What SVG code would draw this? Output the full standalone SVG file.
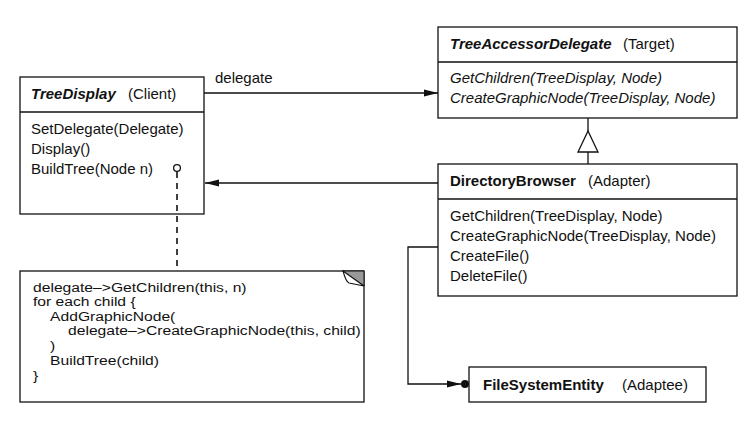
<svg xmlns="http://www.w3.org/2000/svg" width="754" height="423" viewBox="0 0 754 423">
<style>
.box{fill:#fff;stroke:#111;stroke-width:1.3}
.ln{fill:none;stroke:#111;stroke-width:1.3}
text{font-family:"Liberation Sans",Arial,sans-serif;font-size:15px;fill:#111}
.bi{font-weight:bold;font-style:italic}
.b{font-weight:bold}
.i{font-style:italic}
.note text{font-size:13.5px}
</style>
<defs>
<marker id="arr" viewBox="0 0 14 8" refX="14" refY="4" markerWidth="14" markerHeight="8" markerUnits="userSpaceOnUse" orient="auto">
<path d="M0,0.5 L14,4 L0,7.5 Z" fill="#111"/>
</marker>
</defs>
<rect width="754" height="423" fill="#fff"/>

<g id="TreeDisplay">
<rect class="box" x="20" y="77" width="184" height="137"/>
<path class="ln" d="M20,112 H204"/>
<text x="31" y="99"><tspan class="bi">TreeDisplay</tspan><tspan x="128">(Client)</tspan></text>
<text x="31" y="134">SetDelegate(Delegate)</text>
<text x="31" y="154">Display()</text>
<text x="31" y="174">BuildTree(Node n)</text>
</g>

<g id="TreeAccessorDelegate">
<rect class="box" x="438" y="27" width="299" height="91"/>
<path class="ln" d="M438,62 H737"/>
<text x="450" y="49"><tspan class="bi">TreeAccessorDelegate</tspan><tspan x="623">(Target)</tspan></text>
<text class="i" x="450" y="83">GetChildren(TreeDisplay, Node)</text>
<text class="i" x="450" y="103">CreateGraphicNode(TreeDisplay, Node)</text>
</g>

<g id="DirectoryBrowser">
<rect class="box" x="438" y="164" width="299" height="132"/>
<path class="ln" d="M438,199 H737"/>
<text x="450" y="186"><tspan class="b">DirectoryBrowser</tspan><tspan x="588">(Adapter)</tspan></text>
<text x="450" y="221">GetChildren(TreeDisplay, Node)</text>
<text x="450" y="241">CreateGraphicNode(TreeDisplay, Node)</text>
<text x="450" y="261">CreateFile()</text>
<text x="450" y="281">DeleteFile()</text>
</g>

<g id="FileSystemEntity">
<rect class="box" x="469" y="367" width="237" height="35"/>
<text x="483" y="390"><tspan class="b">FileSystemEntity</tspan><tspan x="622">(Adaptee)</tspan></text>
</g>

<g id="note" class="note">
<rect class="box" x="20" y="271" width="344" height="131"/>
<polygon points="343,271 364,271 364,286" fill="#999" stroke="#111" stroke-width="1"/>
<path d="M343,271 Q346,282 349,283 L364,286 Z" fill="#fff" stroke="#111" stroke-width="1.1"/>
<g transform="translate(33,0) scale(1.16,1)">
<text x="0" y="292">delegate–&gt;GetChildren(this, n)</text>
<text x="0" y="306.5">for each child {</text>
<text x="14.7" y="321">AddGraphicNode(</text>
<text x="30.2" y="335.5">delegate–&gt;CreateGraphicNode(this, child)</text>
<text x="14.7" y="350">)</text>
<text x="14.7" y="365">BuildTree(child)</text>
<text x="0" y="380">}</text>
</g>
</g>

<g id="connectors">
<path class="ln" d="M204,93 H438" marker-end="url(#arr)"/>
<text x="215" y="83">delegate</text>
<path class="ln" d="M438,183 H205" marker-end="url(#arr)"/>
<path class="ln" d="M588,118 V131 M588,152 V164"/>
<polygon points="588,131 578,152 598,152" fill="#fff" stroke="#111" stroke-width="1.3"/>
<path class="ln" d="M438,247 H408 V384 H461" marker-end="url(#arr)"/>
<circle cx="465" cy="384" r="4" fill="#111"/>
<path d="M177,172 V271" fill="none" stroke="#111" stroke-width="1.6" stroke-dasharray="6,5"/>
<circle cx="177" cy="168" r="3.4" fill="#fff" stroke="#111" stroke-width="1.3"/>
</g>
</svg>
